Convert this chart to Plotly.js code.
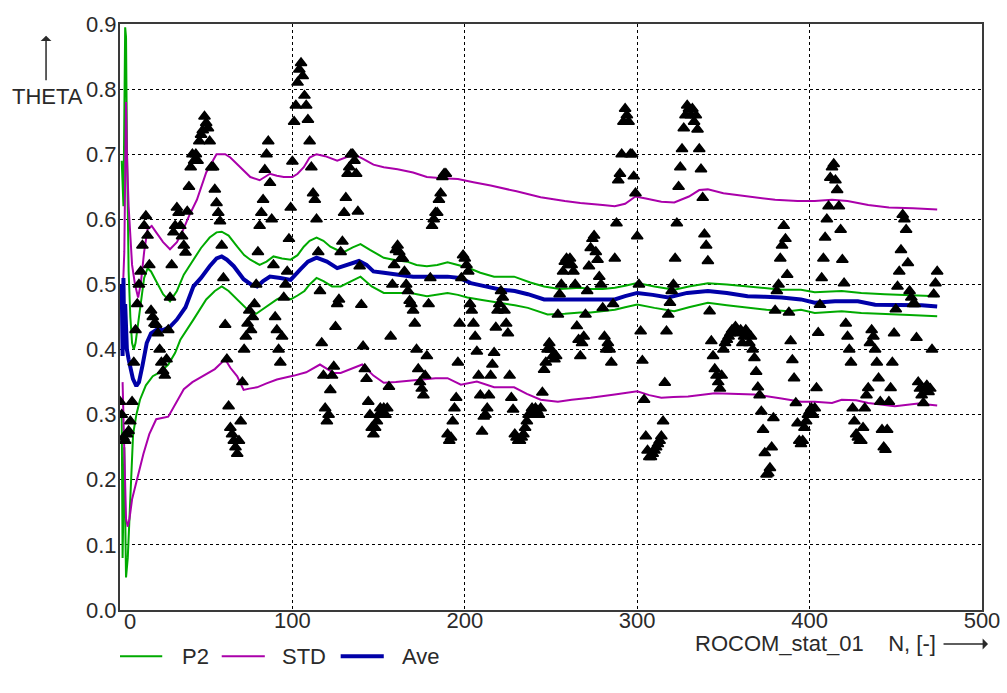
<!DOCTYPE html>
<html>
<head>
<meta charset="utf-8">
<script src="https://cdn.plot.ly/plotly-3.0.1.min.js"></script>
<style>
  html, body { margin: 0; padding: 0; background: #ffffff; }
  #plot { width: 1007px; height: 693px; }
</style>
</head>
<body>
<div id="plot"></div>
<script>
// Measured THETA, one sample per realisation N = 0 .. 474
const sampleTheta = [
  0.32, 0.30, 0.265, 0.26, 0.27, 0.275, 0.29, 0.32, 0.38, 0.43,
  0.47, 0.50, 0.52, 0.56, 0.59, 0.605, 0.575, 0.53, 0.46, 0.45,
  0.44, 0.438, 0.425, 0.40, 0.38, 0.367, 0.36, 0.385, 0.43, 0.48,
  0.53, 0.58, 0.59, 0.618, 0.61, 0.59, 0.574, 0.56, 0.549, 0.612,
  0.65, 0.68, 0.70, 0.69, 0.70, 0.69, 0.72, 0.73, 0.737, 0.758,
  0.748, 0.74, 0.72, 0.68, 0.68, 0.646, 0.625, 0.61, 0.597, 0.56,
  0.51, 0.438, 0.385, 0.313, 0.28, 0.27, 0.26, 0.25, 0.24, 0.26,
  0.29, 0.35, 0.40, 0.42, 0.44, 0.46, 0.43, 0.45, 0.47, 0.50,
  0.55, 0.59, 0.61, 0.63, 0.676, 0.70, 0.72, 0.656, 0.60, 0.53,
  0.45, 0.43, 0.40, 0.38, 0.42, 0.48, 0.50, 0.52, 0.57, 0.618,
  0.689, 0.75, 0.775, 0.81, 0.83, 0.84, 0.82, 0.79, 0.775, 0.753,
  0.72, 0.68, 0.64, 0.63, 0.60, 0.55, 0.49, 0.41, 0.36, 0.31,
  0.29, 0.30, 0.338, 0.36, 0.374, 0.435, 0.47, 0.477, 0.55, 0.566,
  0.61, 0.633, 0.67, 0.68, 0.70, 0.70, 0.69, 0.67, 0.612, 0.528,
  0.469, 0.405, 0.37, 0.355, 0.32, 0.30, 0.28, 0.27, 0.28, 0.29,
  0.30, 0.31, 0.30, 0.31, 0.30, 0.31, 0.343, 0.42, 0.50, 0.53,
  0.553, 0.56, 0.55, 0.54, 0.54, 0.52, 0.50, 0.49, 0.475, 0.47,
  0.46, 0.44, 0.40, 0.37, 0.35, 0.34, 0.33, 0.36, 0.39, 0.47,
  0.51, 0.59, 0.60, 0.61, 0.61, 0.63, 0.64, 0.665, 0.67, 0.67,
  0.27, 0.26, 0.265, 0.29, 0.31, 0.326, 0.38, 0.44, 0.51, 0.545,
  0.54, 0.53, 0.52, 0.47, 0.46, 0.44, 0.42, 0.397, 0.36, 0.33,
  0.274, 0.297, 0.30, 0.31, 0.33, 0.36, 0.377, 0.395, 0.434, 0.46,
  0.47, 0.49, 0.48, 0.46, 0.44, 0.425, 0.36, 0.326, 0.308, 0.27,
  0.265, 0.26, 0.26, 0.265, 0.27, 0.28, 0.29, 0.30, 0.30, 0.31,
  0.30, 0.31, 0.305, 0.30, 0.31, 0.334, 0.369, 0.38, 0.40, 0.41,
  0.40, 0.39, 0.385, 0.39, 0.454, 0.485, 0.50, 0.52, 0.535, 0.54,
  0.53, 0.54, 0.53, 0.52, 0.50, 0.436, 0.415, 0.39, 0.41, 0.42,
  0.454, 0.49, 0.528, 0.556, 0.57, 0.575, 0.55, 0.538, 0.512, 0.50,
  0.464, 0.42, 0.40, 0.41, 0.40, 0.38, 0.47, 0.54, 0.594, 0.66,
  0.67, 0.70, 0.75, 0.77, 0.76, 0.75, 0.70, 0.70, 0.666, 0.64,
  0.574, 0.50, 0.428, 0.383, 0.323, 0.267, 0.245, 0.235, 0.235, 0.24,
  0.245, 0.25, 0.255, 0.26, 0.267, 0.29, 0.349, 0.428, 0.454, 0.472,
  0.49, 0.50, 0.54, 0.594, 0.65, 0.68, 0.708, 0.74, 0.76, 0.775,
  0.77, 0.76, 0.77, 0.75, 0.76, 0.738, 0.708, 0.677, 0.633, 0.577,
  0.56, 0.536, 0.459, 0.413, 0.39, 0.37, 0.36, 0.35, 0.34, 0.36,
  0.40, 0.41, 0.415, 0.42, 0.425, 0.43, 0.43, 0.435, 0.43, 0.425,
  0.43, 0.41, 0.42, 0.43, 0.425, 0.41, 0.42, 0.40, 0.387, 0.366,
  0.342, 0.33, 0.305, 0.277, 0.241, 0.208, 0.21, 0.218, 0.25, 0.295,
  0.46, 0.49, 0.50, 0.54, 0.56, 0.59, 0.57, 0.515, 0.457, 0.413,
  0.384, 0.356, 0.318, 0.287, 0.26, 0.255, 0.26, 0.28, 0.29, 0.30,
  0.305, 0.31, 0.30, 0.31, 0.341, 0.426, 0.469, 0.51, 0.54, 0.572,
  0.60, 0.62, 0.664, 0.68, 0.685, 0.66, 0.645, 0.62, 0.584, 0.538,
  0.502, 0.44, 0.42, 0.40, 0.38, 0.31, 0.29, 0.27, 0.265, 0.26,
  0.26, 0.28, 0.31, 0.33, 0.341, 0.41, 0.43, 0.42, 0.40, 0.38,
  0.356, 0.32, 0.277, 0.25, 0.246, 0.277, 0.32, 0.341, 0.38, 0.425,
  0.462, 0.497, 0.52, 0.553, 0.607, 0.60, 0.584, 0.533, 0.49, 0.48,
  0.47, 0.47, 0.418, 0.35, 0.34, 0.33, 0.318, 0.34, 0.345, 0.335,
  0.34, 0.40, 0.485, 0.502, 0.52
];
const sampleN = sampleTheta.map((_, i) => i);

// Running average of THETA
const aveN = [1, 1.5, 2, 2.5, 3, 4, 5, 6, 7.5, 9.5, 11, 13, 15.5, 18, 21, 25, 29, 33, 38, 42.6, 47, 52, 56, 59, 62, 66, 71.7, 76, 79.5, 83, 87, 93, 99, 104.6, 109, 114, 120, 126, 132, 138.6, 143, 147, 153, 161, 170, 180, 190, 197, 203.5, 212, 221, 229, 236.6, 246, 255, 265, 273, 280, 287, 293, 300, 309, 318, 329, 341, 352, 364, 374, 383.7, 395, 403, 414.7, 428, 438, 453.5, 465, 474];
const aveVal = [0.50, 0.39, 0.51, 0.40, 0.47, 0.40, 0.385, 0.37, 0.355, 0.344, 0.35, 0.375, 0.41, 0.425, 0.43, 0.43, 0.435, 0.446, 0.465, 0.497, 0.51, 0.528, 0.54, 0.543, 0.538, 0.528, 0.508, 0.50, 0.497, 0.505, 0.512, 0.51, 0.507, 0.523, 0.535, 0.541, 0.535, 0.525, 0.53, 0.536, 0.53, 0.52, 0.518, 0.515, 0.512, 0.512, 0.512, 0.51, 0.502, 0.497, 0.492, 0.49, 0.485, 0.477, 0.477, 0.477, 0.477, 0.478, 0.477, 0.482, 0.487, 0.484, 0.48, 0.487, 0.49, 0.487, 0.482, 0.481, 0.48, 0.477, 0.472, 0.474, 0.474, 0.469, 0.469, 0.468, 0.466];

// P2 band, upper and lower bound
const p2UpN = [1, 2, 3, 3.5, 4, 4.5, 5, 6, 7, 8, 9, 10, 12, 14, 16, 18, 21, 25, 29, 33, 37, 42.6, 47, 52, 56, 59, 63, 68, 72, 75.6, 81, 85, 89, 94, 99, 103, 106.6, 110, 114, 118, 122, 126, 130, 135, 139.5, 145, 153, 160, 166.6, 172, 178, 184, 190, 196, 201.5, 209, 217, 228.6, 238, 246, 255, 267, 273, 280, 287, 293, 300, 310, 321.5, 330, 341, 352, 364, 374, 383.7, 395, 403, 418.6, 430, 443.6, 458, 474];
const p2UpVal = [0.69, 0.62, 0.895, 0.88, 0.72, 0.62, 0.52, 0.45, 0.41, 0.40, 0.41, 0.43, 0.47, 0.51, 0.525, 0.52, 0.505, 0.485, 0.474, 0.49, 0.515, 0.538, 0.556, 0.572, 0.58, 0.581, 0.575, 0.558, 0.545, 0.538, 0.53, 0.535, 0.543, 0.54, 0.538, 0.545, 0.558, 0.567, 0.572, 0.567, 0.558, 0.553, 0.55, 0.557, 0.562, 0.553, 0.541, 0.537, 0.535, 0.53, 0.528, 0.53, 0.534, 0.53, 0.526, 0.518, 0.512, 0.512, 0.503, 0.497, 0.493, 0.495, 0.493, 0.493, 0.495, 0.498, 0.502, 0.497, 0.492, 0.497, 0.502, 0.50, 0.497, 0.495, 0.492, 0.492, 0.488, 0.49, 0.487, 0.485, 0.484, 0.482];
const p2LoN = [1, 1.5, 2.5, 3.5, 4.5, 5.8, 7.6, 9.5, 11.6, 15, 19, 23, 28, 32, 35, 42.6, 50, 55, 59, 63, 68, 72, 75.6, 79, 83, 87, 91, 95, 99, 103, 107, 110, 114, 118, 123, 128, 134, 139.5, 146, 153, 160, 168.6, 178, 184, 190, 196, 201.5, 210, 221, 229, 236.6, 248, 258, 267, 273, 280, 287, 293, 300, 310, 321.5, 330, 341, 352, 364, 375, 388, 395, 403, 418.6, 430, 443.6, 458, 474];
const p2LoVal = [0.30, 0.08, 0.25, 0.05, 0.08, 0.17, 0.27, 0.30, 0.323, 0.345, 0.359, 0.365, 0.377, 0.395, 0.415, 0.446, 0.477, 0.49, 0.497, 0.49, 0.477, 0.465, 0.457, 0.455, 0.462, 0.469, 0.477, 0.482, 0.477, 0.483, 0.49, 0.50, 0.51, 0.505, 0.497, 0.497, 0.505, 0.512, 0.497, 0.487, 0.487, 0.487, 0.482, 0.485, 0.487, 0.484, 0.48, 0.476, 0.472, 0.468, 0.464, 0.454, 0.455, 0.457, 0.457, 0.459, 0.461, 0.465, 0.469, 0.464, 0.459, 0.465, 0.472, 0.468, 0.464, 0.461, 0.459, 0.461, 0.456, 0.459, 0.456, 0.454, 0.453, 0.451];

// Average +/- one standard deviation
const stdUpN = [1.5, 2.5, 3.5, 4, 5, 6, 7, 8.7, 10.5, 12, 14, 16, 18.4, 21, 25, 29, 33, 36, 40, 44.6, 50, 56, 61, 64, 68, 72, 75.6, 81, 87, 91, 95, 100, 103, 106.6, 110, 114, 119, 126, 131, 135.7, 141, 147, 153, 161, 170, 178, 187, 196, 205, 215, 230, 244, 258, 267, 280, 287, 293, 299, 305, 314, 321.5, 330, 336, 341, 350, 364, 380, 393, 403, 413, 422, 434, 446, 460, 474];
const stdUpVal = [0.48, 0.55, 0.78, 0.70, 0.62, 0.57, 0.53, 0.50, 0.48, 0.50, 0.55, 0.585, 0.59, 0.58, 0.565, 0.554, 0.565, 0.58, 0.605, 0.63, 0.672, 0.70, 0.70, 0.695, 0.685, 0.675, 0.665, 0.66, 0.67, 0.667, 0.665, 0.665, 0.67, 0.68, 0.695, 0.70, 0.697, 0.69, 0.695, 0.70, 0.693, 0.684, 0.68, 0.677, 0.672, 0.665, 0.663, 0.662, 0.657, 0.652, 0.643, 0.634, 0.628, 0.625, 0.622, 0.62, 0.624, 0.635, 0.632, 0.627, 0.626, 0.635, 0.645, 0.646, 0.64, 0.635, 0.63, 0.628, 0.628, 0.63, 0.628, 0.622, 0.618, 0.617, 0.615];
const stdLoN = [1.5, 2.5, 3.5, 4.5, 5.5, 7, 9.7, 13.6, 17, 21, 28, 33, 37, 42, 48, 55, 61, 64, 68, 71.7, 75, 79.5, 85, 91, 101, 108, 116, 120, 124, 128, 134, 140.5, 147, 153, 160, 168, 176, 183, 190, 197.7, 207, 217, 228.6, 236, 244, 254, 262, 273, 287, 300, 307, 314, 321, 329.5, 345, 368, 383.7, 395, 403, 413, 418.6, 427, 434, 449.5, 463, 474];
const stdLoVal = [0.35, 0.25, 0.14, 0.128, 0.14, 0.17, 0.20, 0.24, 0.27, 0.293, 0.297, 0.32, 0.339, 0.35, 0.359, 0.37, 0.385, 0.372, 0.359, 0.338, 0.34, 0.342, 0.348, 0.354, 0.36, 0.365, 0.377, 0.37, 0.364, 0.364, 0.37, 0.377, 0.36, 0.349, 0.35, 0.352, 0.354, 0.356, 0.356, 0.346, 0.351, 0.342, 0.342, 0.332, 0.323, 0.32, 0.323, 0.326, 0.331, 0.336, 0.33, 0.326, 0.327, 0.328, 0.333, 0.331, 0.325, 0.32, 0.32, 0.318, 0.323, 0.322, 0.318, 0.313, 0.317, 0.314];

// Axis ticks (the label at N = 0 sits just inside the frame, see below)
const xTicks = [0, 100, 200, 300, 400, 500];
const xTickText = ['', '100', '200', '300', '400', '500'];
const xOriginLabel = '0';
const yTicks = [0.0, 0.1, 0.2, 0.3, 0.4, 0.5, 0.6, 0.7, 0.8, 0.9];
const yTickText = ['0.0', '0.1', '0.2', '0.3', '0.4', '0.5', '0.6', '0.7', '0.8', '0.9'];

// Legend entries
const legendNames = ['P2', 'STD', 'Ave'];

const GREEN = '#00aa00';
const MAGENTA = '#aa00aa';
const BLUE = '#0000a8';
const INK = '#2a2a2a';
const FONT = 'Liberation Sans, Arial, sans-serif';
const FS = 22;

const traces = [
  { x: p2UpN, y: p2UpVal, name: legendNames[0], mode: 'lines', showlegend: false,
    line: { color: GREEN, width: 2 } },
  { x: p2LoN, y: p2LoVal, name: legendNames[0], mode: 'lines', showlegend: false,
    line: { color: GREEN, width: 2 } },
  { x: stdUpN, y: stdUpVal, name: legendNames[1], mode: 'lines', showlegend: false,
    line: { color: MAGENTA, width: 2 } },
  { x: stdLoN, y: stdLoVal, name: legendNames[1], mode: 'lines', showlegend: false,
    line: { color: MAGENTA, width: 2 } },
  { x: aveN, y: aveVal, name: legendNames[2], mode: 'lines', showlegend: false,
    line: { color: BLUE, width: 4 } },
  { x: sampleN, y: sampleTheta, name: 'THETA', showlegend: false, mode: 'markers',
    marker: { symbol: 'triangle-up', size: 10, color: '#000000',
              line: { color: '#000000', width: 1.5 } } }
];

const axisCommon = {
  showline: true, mirror: true, linecolor: '#3a3a3a', linewidth: 2,
  showgrid: true, gridcolor: '#000000', gridwidth: 1, griddash: 'dot',
  zeroline: false, ticks: '', fixedrange: true,
  tickfont: { family: FONT, size: FS, color: INK }
};

// legend row below the plot: sample line then its label (paper coordinates)
const legendRowY = -0.079;
const legendItems = [
  { x0: 0.000, x1: 0.049, tx: 0.0696, color: GREEN, width: 2, label: legendNames[0] },
  { x0: 0.118, x1: 0.168, tx: 0.1856, color: MAGENTA, width: 2, label: legendNames[1] },
  { x0: 0.256, x1: 0.306, tx: 0.3248, color: BLUE, width: 4, label: legendNames[2] }
];

const shapes = legendItems.map(it => ({
  type: 'line', xref: 'paper', yref: 'paper', x0: it.x0, x1: it.x1,
  y0: legendRowY, y1: legendRowY, line: { color: it.color, width: it.width }
}));

const annotations = legendItems.map(it => ({
  xref: 'paper', yref: 'paper', x: it.tx, y: legendRowY, xanchor: 'left', yanchor: 'middle',
  text: it.label, showarrow: false, font: { family: FONT, size: FS, color: INK }
}));

annotations.push(
  // origin label of the N axis, nudged inside the frame
  { xref: 'x', yref: 'paper', x: xTicks[0], y: -0.019, xanchor: 'left', yanchor: 'middle',
    xshift: 2, text: xOriginLabel, showarrow: false, font: { family: FONT, size: FS, color: INK } },
  { xref: 'paper', yref: 'paper', x: -0.1276, y: 0.877, xanchor: 'left', yanchor: 'middle',
    text: 'THETA', showarrow: false, font: { family: FONT, size: FS, color: INK } },
  { xref: 'paper', yref: 'paper', x: -0.0858, y: 0.980, text: '', showarrow: true,
    ax: 0, ay: 46, arrowhead: 1, arrowsize: 1.2, arrowwidth: 1.5, arrowcolor: INK, standoff: 0, startstandoff: 0 },
  { xref: 'paper', yref: 'paper', x: 0.949, y: -0.058, xanchor: 'right', yanchor: 'middle',
    text: 'ROCOM_stat_01\u00a0\u00a0\u00a0\u00a0N, [-]', showarrow: false,
    font: { family: FONT, size: FS, color: INK } },
  { xref: 'paper', yref: 'paper', x: 1.007, y: -0.058, text: '', showarrow: true,
    ax: -46, ay: 0, arrowhead: 1, arrowsize: 1.2, arrowwidth: 1.5, arrowcolor: INK, standoff: 0, startstandoff: 0 }
);

const layout = {
  width: 1007, height: 693,
  margin: { l: 120, r: 25, t: 24, b: 83 },
  paper_bgcolor: '#ffffff', plot_bgcolor: '#ffffff',
  font: { family: FONT, size: FS, color: INK },
  xaxis: Object.assign({}, axisCommon, {
    range: [0, 500], tickvals: xTicks, ticktext: xTickText, ticklabelstandoff: -10
  }),
  yaxis: Object.assign({}, axisCommon, {
    range: [0, 0.9], tickvals: yTicks, ticktext: yTickText, ticklabelstandoff: -3
  }),
  showlegend: false,
  shapes: shapes,
  annotations: annotations
};

Plotly.newPlot('plot', traces, layout, { staticPlot: true, displayModeBar: false });
</script>
</body>
</html>
